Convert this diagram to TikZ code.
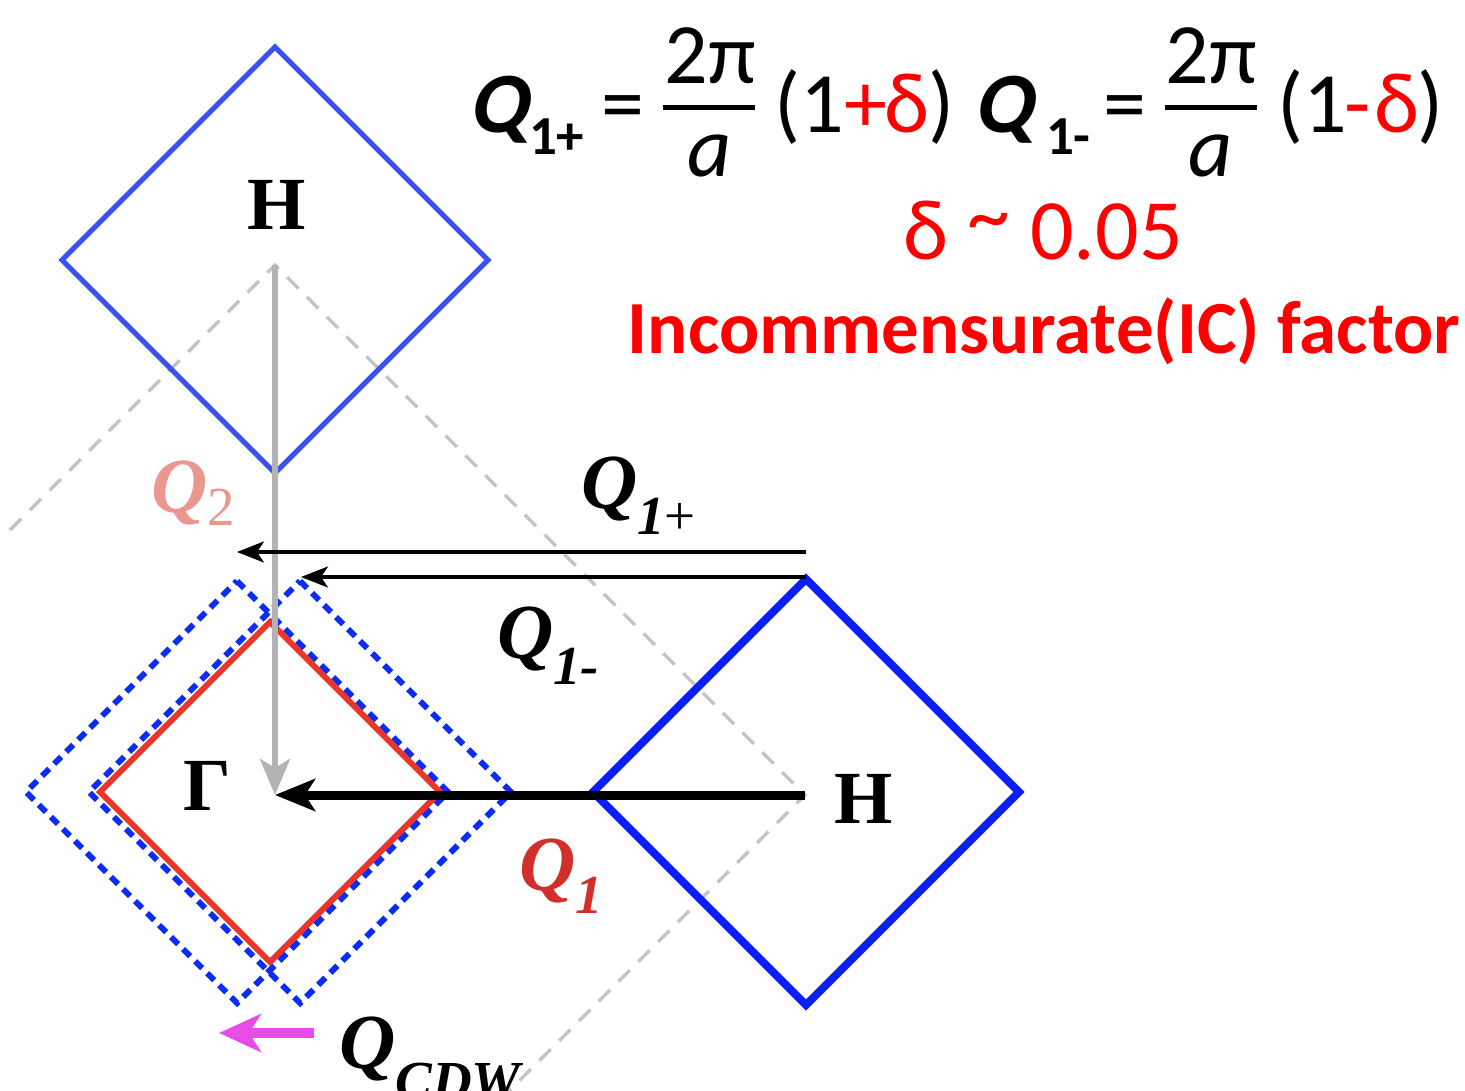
\documentclass[tikz,border=0pt]{standalone}
\usepackage{fontspec}
\newfontfamily\calib{Carlito}
\newfontfamily\calibBI{Carlito Bold}[FakeSlant=0.2]
\newfontfamily\tms{Liberation Serif}
\usetikzlibrary{arrows.meta}
\definecolor{bthin}{HTML}{3A52F0}
\definecolor{bthick}{HTML}{0A1EF5}
\definecolor{bdash}{HTML}{0A2CF5}
\definecolor{rdia}{HTML}{E8362A}
\definecolor{gdash}{HTML}{C4C4C4}
\definecolor{garrow}{HTML}{B3B3B3}
\definecolor{magarr}{HTML}{E84CE8}
\definecolor{qred}{HTML}{D32F2A}
\definecolor{qpink}{HTML}{E9978F}
\definecolor{eqred}{HTML}{FF0000}
\newcommand\myEq{\calib\fontsize{86}{100}\selectfont}
\newcommand\mySubE{\calib\fontsize{55}{64}\selectfont\bfseries}
\newcommand\myLab{\tms\fontsize{78}{90}\selectfont\bfseries\itshape}
\newcommand\mySubT{\tms\fontsize{55}{60}\selectfont}
\newcommand\myH{\tms\fontsize{75}{85}\selectfont\bfseries}
\tikzset{
  thinblue/.style={draw=bthin,line width=5pt},
  thickblue/.style={draw=bthick,line width=8pt},
  reddia/.style={draw=rdia,line width=6pt},
  dashblue/.style={draw=bdash,line width=6pt,dash pattern=on 10pt off 7pt},
  graydash/.style={draw=gdash,line width=3.5pt,dash pattern=on 16pt off 12pt},
  grayarrow/.style={draw=garrow,line width=6pt,-{Stealth[length=36pt,width=30pt,inset=9pt]}},
  bigarrow/.style={draw=black,line width=9pt,-{Stealth[length=40pt,width=32pt,inset=10pt]}},
  thinarrow/.style={draw=black,line width=3.5pt,-{Stealth[length=27pt,width=21pt,inset=7pt]}},
  magarrow/.style={draw=magarr,line width=10pt,-{Stealth[length=42pt,width=38pt,inset=12pt]}},
  lab/.style={inner sep=0pt,outer sep=0pt}
}
\begin{document}
\begin{tikzpicture}[x=1pt,y=-1pt,every node/.style={lab}]
\useasboundingbox (0,0) rectangle (1465,1091);
\clip (0,0) rectangle (1465,1091);
% key points
\coordinate (G) at (275,795);
\coordinate (Ht) at (275,265);
\coordinate (Hr) at (805,795);
\coordinate (Hb) at (275,1325);
\coordinate (Hl) at (10,530);
% gray dashed big square (visible part)
\draw[graydash] (Hl) -- (Ht) -- (Hr) -- (Hb);
% diamonds
\draw[thinblue] (275,47) -- (488,260) -- (275,473) -- (62,260) -- cycle;
\draw[thickblue] (806,579) -- (1019,792) -- (806,1005) -- (593,792) -- cycle;
\draw[dashblue] (237,581) -- (448,792) -- (237,1003) -- (26,792) -- cycle;
\draw[dashblue] (300,581) -- (511,792) -- (300,1003) -- (89,792) -- cycle;
\draw[reddia] (270,622) -- (440,792) -- (270,962) -- (100,792) -- cycle;
% arrows
\draw[grayarrow] (Ht) -- (G);
\coordinate (p1s) at (806,552);
\coordinate (p1e) at (237,552);
\coordinate (m1s) at (806,577);
\coordinate (m1e) at (301,577);
\draw[thinarrow] (p1s) -- (p1e);
\draw[thinarrow] (m1s) -- (m1e);
\draw[bigarrow] (Hr) -- (G);
\coordinate (cdws) at (314,1033);
\coordinate (cdwe) at (219,1033);
\draw[magarrow] (cdws) -- (cdwe);
% point labels
\node[anchor=base] (Htlab) at (277,230) {\myH H};
\node[anchor=base] (Hrlab) at (864,823) {\myH H};
\node[anchor=base] (Glab) at (207,810) {\myH Γ};
% vector labels
\node[anchor=base west] (q1p) at (581,508) {\myLab Q\lower26pt\hbox{\mySubT\bfseries\itshape 1\upshape\mdseries +}};
\node[anchor=base west] (q1m) at (497,658) {\myLab Q\lower26pt\hbox{\mySubT\bfseries\itshape 1-}};
\node[anchor=base west,text=qred] (q1) at (519,890) {\myLab Q\lower23pt\hbox{\mySubT\bfseries\itshape 1}};
\node[anchor=base west,text=qpink] (q2) at (151,512) {\myLab Q\lower13pt\hbox{\mySubT\upshape\mdseries 2}};
\node[anchor=base west] (qcdw) at (339,1068) {\myLab Q\lower31pt\hbox{\mySubT\bfseries\itshape CDW}};
% equation
\node[anchor=base west] (eQa) at (468,133) {\calibBI\fontsize{86}{100}\selectfont Q};
\node[anchor=base west] (eSa) at (529,155) {\mySubE 1+};
\node[anchor=base] (eEa) at (623,133) {\myEq =};
\node[anchor=base] (eNa) at (710,84) {\myEq 2π};
\draw[line width=5pt] (663,108) -- (755,108);
\node[anchor=base] (eDa) at (710,177) {\myEq\itshape a};
\node[anchor=base] (pa1) at (788,133) {\myEq (};
\node[anchor=base] (pa2) at (822,133) {\myEq 1};
\node[anchor=base,text=eqred] (pa3) at (866,133) {\myEq +};
\node[anchor=base,text=eqred] (pa4) at (907,133) {\myEq δ};
\node[anchor=base] (pa5) at (942,133) {\myEq )};
\node[anchor=base west] (eQb) at (973,133) {\calibBI\fontsize{86}{100}\selectfont Q};
\node[anchor=base west] (eSb) at (1046,155) {\mySubE 1-};
\node[anchor=base] (eEb) at (1125,133) {\myEq =};
\node[anchor=base] (eNb) at (1211,84) {\myEq 2π};
\draw[line width=5pt] (1165,108) -- (1257,108);
\node[anchor=base] (eDb) at (1211,177) {\myEq\itshape a};
\node[anchor=base] (pb1) at (1291,133) {\myEq (};
\node[anchor=base] (pb2) at (1325,133) {\myEq 1};
\node[anchor=base,text=eqred] (pb3) at (1358,133) {\myEq -};
\node[anchor=base,text=eqred] (pb4) at (1397,133) {\myEq δ};
\node[anchor=base] (pb5) at (1431,133) {\myEq )};
\node[anchor=base,text=eqred] (delta) at (1043,260) {\myEq δ \raisebox{15pt}{\textasciitilde} 0.05};
\node[anchor=base,text=eqred] (icf) at (1044,354) {\calib\fontsize{75}{86}\selectfont\bfseries Incommensurate(IC) factor};
\end{tikzpicture}
\end{document}
